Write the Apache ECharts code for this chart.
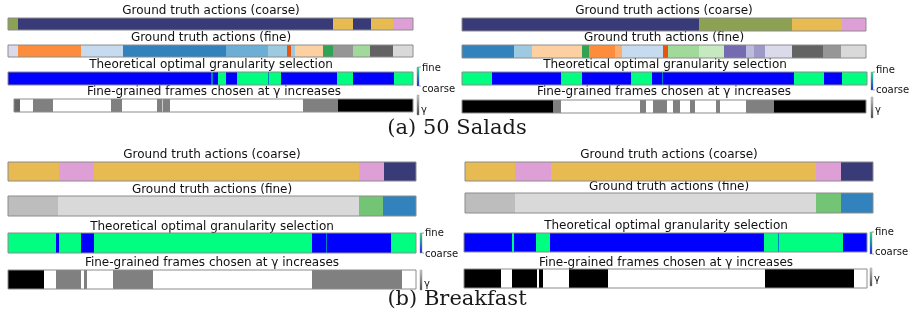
<!DOCTYPE HTML>
<html>
<head>
	<meta charset="utf-8">
	<title>Granularity selection - 50 Salads / Breakfast</title>
	<script src="https://cdn.jsdelivr.net/npm/echarts@6/dist/echarts.min.js"></script>
	<style>
		html, body { margin: 0; padding: 0; background: #fff; }
		#main { width: 909px; height: 314px; }
	</style>
</head>
<body>
	<div id="main"></div>
	<script type="text/javascript">
		// segments are [start %, end %, label]; coarse labels index tab20b, fine labels index tab20c
		// granularity: 0 = coarse, 1 = fine; frames: 0 = none .. 1 = all (gamma)
		var tab20b = ['#393b79','#5254a3','#6b6ecf','#9c9ede','#637939','#8ca252','#b5cf6b','#cedb9c','#8c6d31','#bd9e39',
			'#e7ba52','#e7cb94','#843c39','#ad494a','#d6616b','#e7969c','#7b4173','#a55194','#ce6dbd','#de9ed6'];
		var tab20c = ['#3182bd','#6baed6','#9ecae1','#c6dbef','#e6550d','#fd8d3c','#fdae6b','#fdd0a2','#31a354','#74c476',
			'#a1d99b','#c7e9c0','#756bb1','#9e9ac8','#bcbddc','#dadaeb','#636363','#969696','#bdbdbd','#d9d9d9'];

		var stripTitles = ['Ground truth actions (coarse)', 'Ground truth actions (fine)',
			'Theoretical optimal granularity selection', 'Fine-grained frames chosen at γ increases'];
		var captions = ['(a) 50 Salads', '(b) Breakfast'];
		var granLabels = ['fine', 'coarse'];
		var gammaLabel = 'γ';

		var salads1Coarse = [[0,2.5,5],[2.5,80.2,0],[80.2,85.2,10],[85.2,89.6,0],[89.6,95.1,10],[95.1,100,19]];
		var salads1Fine = [[0,2.5,15],[2.5,18.0,5],[18.0,28.4,3],[28.4,53.8,0],[53.8,64.2,1],[64.2,68.9,2],[68.9,69.9,4],
			[69.9,70.9,2],[70.9,77.8,7],[77.8,80.2,8],[80.2,85.2,17],[85.2,89.4,10],[89.4,95.1,16],[95.1,100,19]];
		var salads1Gran = [[0,50.1,0],[50.1,50.6,0.5],[50.6,51.9,0],[51.9,53.8,1],[53.8,56.5,0],[56.5,64.2,1],[64.2,64.4,0.5],
			[64.4,67.4,1],[67.4,81.2,0],[81.2,85.2,1],[85.2,95.3,0],[95.3,100,1]];
		var salads1Frames = [[0,1.5,0.6],[1.5,4.8,0],[4.8,9.8,0.5],[9.8,24.3,0],[24.3,27.1,0.5],[27.1,35.8,0],[35.8,37.1,0.5],
			[37.1,37.3,0.2],[37.3,39.1,0.5],[39.1,72.4,0],[72.4,81.2,0.5],[81.2,100,1]];

		var salads2Coarse = [[0,58.7,0],[58.7,81.7,5],[81.7,94.1,10],[94.1,100,19]];
		var salads2Fine = [[0,12.9,0],[12.9,17.3,2],[17.3,29.7,7],[29.7,31.4,8],[31.4,37.9,5],[37.9,39.6,6],[39.6,49.8,3],
			[49.8,51.0,4],[51.0,58.7,10],[58.7,64.9,11],[64.9,70.3,12],[70.3,72.3,14],[72.3,75.0,13],[75.0,81.7,15],
			[81.7,89.4,16],[89.4,93.8,17],[93.8,100,19]];
		var salads2Gran = [[0,7.4,1],[7.4,24.4,0],[24.4,29.6,1],[29.6,41.7,0],[41.7,46.9,1],[46.9,49.4,0],[49.4,49.6,0.5],
			[49.6,82.0,0],[82.0,89.4,1],[89.4,93.8,0],[93.8,100,1]];
		var salads2Frames = [[0,22.5,1],[22.5,24.5,0.5],[24.5,44.1,0],[44.1,45.5,0.5],[45.5,47.3,0],[47.3,50.7,0.5],[50.7,52.2,0],
			[52.2,54.0,0.5],[54.0,56.4,0],[56.4,57.7,0.5],[57.7,62.9,0],[62.9,63.9,0.5],[63.9,70.3,0],[70.3,77.2,0.5],[77.2,100,1]];

		var breakfast1Coarse = [[0,12.5,10],[12.5,21.1,19],[21.1,86.0,10],[86.0,92.2,19],[92.2,100,0]];
		var breakfast1Fine = [[0,12.3,18],[12.3,86.0,19],[86.0,91.9,9],[91.9,100,0]];
		var breakfast1Gran = [[0,11.8,1],[11.8,12.5,0],[12.5,17.9,1],[17.9,21.1,0],[21.1,74.5,1],[74.5,77.9,0],[77.9,78.2,0.5],
			[78.2,93.9,0],[93.9,100,1]];
		var breakfast1Frames = [[0,8.8,1],[8.8,11.8,0],[11.8,17.9,0.5],[17.9,18.6,0],[18.6,19.4,0.5],[19.4,25.7,0],[25.7,35.5,0.5],
			[35.5,74.5,0],[74.5,96.6,0.5],[96.6,100,0]];

		var breakfast2Coarse = [[0,12.3,10],[12.3,21.1,19],[21.1,86.0,10],[86.0,92.2,19],[92.2,100,0]];
		var breakfast2Fine = [[0,12.3,18],[12.3,86.0,19],[86.0,92.2,9],[92.2,100,0]];
		var breakfast2Gran = [[0,11.9,0],[11.9,12.4,1],[12.4,17.9,0],[17.9,21.3,1],[21.3,74.4,0],[74.4,77.9,1],[77.9,78.2,0.5],
			[78.2,94.0,1],[94.0,100,0]];
		var breakfast2Frames = [[0,9.2,1],[9.2,11.9,0],[11.9,18.1,1],[18.1,18.6,0],[18.6,19.6,1],[19.6,26.1,0],[26.1,35.7,1],
			[35.7,74.7,0],[74.7,96.8,1],[96.8,100,0]];

		// layout of the 16 strips (pixels): x0, x1, y0, y1, title y
		var strips = [
			{data: salads1Coarse, kind: 'coarse', x0: 8, x1: 413, y0: 18, y1: 30, ty: 11},
			{data: salads1Fine, kind: 'fine', x0: 8, x1: 413, y0: 45, y1: 57, ty: 38},
			{data: salads1Gran, kind: 'gran', x0: 8, x1: 413, y0: 72, y1: 85, ty: 65},
			{data: salads1Frames, kind: 'frames', x0: 14, x1: 413, y0: 99, y1: 112, ty: 92},
			{data: salads2Coarse, kind: 'coarse', x0: 462, x1: 866, y0: 18, y1: 31, ty: 11},
			{data: salads2Fine, kind: 'fine', x0: 462, x1: 866, y0: 45, y1: 58, ty: 38},
			{data: salads2Gran, kind: 'gran', x0: 462, x1: 867, y0: 72, y1: 85, ty: 65},
			{data: salads2Frames, kind: 'frames', x0: 462, x1: 866, y0: 100, y1: 113, ty: 92},
			{data: breakfast1Coarse, kind: 'coarse', x0: 8, x1: 416, y0: 162, y1: 181, ty: 155},
			{data: breakfast1Fine, kind: 'fine', x0: 8, x1: 416, y0: 196, y1: 216, ty: 190},
			{data: breakfast1Gran, kind: 'gran', x0: 8, x1: 416, y0: 233, y1: 253, ty: 227},
			{data: breakfast1Frames, kind: 'frames', x0: 8, x1: 416, y0: 270, y1: 289, ty: 263},
			{data: breakfast2Coarse, kind: 'coarse', x0: 465, x1: 873, y0: 162, y1: 181, ty: 155},
			{data: breakfast2Fine, kind: 'fine', x0: 465, x1: 873, y0: 193, y1: 213, ty: 187},
			{data: breakfast2Gran, kind: 'gran', x0: 464, x1: 867, y0: 233, y1: 252, ty: 226},
			{data: breakfast2Frames, kind: 'frames', x0: 464, x1: 867, y0: 269, y1: 288, ty: 263}
		];
		var kindIndex = {coarse: 0, fine: 1, gran: 2, frames: 3};

		// colorbars next to each panel: x, granularity bar y0/y1 + label ys, gamma bar y0/y1 + label y
		var colorbars = [
			{x: 417, gy0: 67, gy1: 86, fy: 68, cy: 89, my0: 95, my1: 115, my: 110},
			{x: 871, gy0: 72, gy1: 90, fy: 70, cy: 90, my0: 97, my1: 118, my: 110},
			{x: 420, gy0: 233, gy1: 253, fy: 233, cy: 254, my0: 270, my1: 290, my: 284},
			{x: 870, gy0: 232, gy1: 254, fy: 232, cy: 252, my0: 268, my1: 286, my: 279}
		];

		function makeRender(palette) {
			return function(params, api) {
				var a = api.coord([api.value(0), 0]);
				var b = api.coord([api.value(1), 0]);
				var cs = params.coordSys;
				var x0 = Math.round(a[0]), x1 = Math.round(b[0]);
				if (x1 <= x0) x1 = x0 + 1;
				return {
					type: 'rect',
					shape: {x: x0, y: cs.y, width: x1 - x0, height: cs.height},
					style: {fill: palette ? palette[api.value(2)] : api.visual('color')}
				};
			};
		}

		var myChart = echarts.init(document.getElementById('main'));

		var grids = [], xAxes = [], yAxes = [], series = [], graphics = [];
		var granSeries = [], frameSeries = [];
		var txtFont = '"DejaVu Sans", sans-serif';

		strips.forEach(function(s, i) {
			grids.push({
				left: s.x0, top: s.y0, width: s.x1 - s.x0, height: s.y1 - s.y0,
				show: true, borderColor: '#8c8c8c', borderWidth: 1, backgroundColor: 'transparent', z: 3
			});
			xAxes.push({type: 'value', gridIndex: i, min: 0, max: 100, show: false});
			yAxes.push({type: 'value', gridIndex: i, min: 0, max: 1, show: false});
			var palette = s.kind == 'coarse' ? tab20b : (s.kind == 'fine' ? tab20c : null);
			if (s.kind == 'gran') granSeries.push(i);
			if (s.kind == 'frames') frameSeries.push(i);
			series.push({
				type: 'custom', xAxisIndex: i, yAxisIndex: i, z: 2, silent: true,
				renderItem: makeRender(palette),
				encode: {x: [0, 1]},
				data: s.data
			});
			graphics.push({
				type: 'text', x: Math.round((s.x0 + s.x1) / 2), y: s.ty, silent: true,
				style: {
					text: stripTitles[kindIndex[s.kind]], fill: '#111', fontSize: 12, fontFamily: txtFont,
					align: 'center', verticalAlign: 'middle'
				}
			});
		});

		colorbars.forEach(function(c) {
			graphics.push({
				type: 'rect', shape: {x: c.x, y: c.gy0, width: 2, height: c.gy1 - c.gy0}, silent: true,
				style: {
					fill: new echarts.graphic.LinearGradient(0, 0, 0, 1, [{offset: 0, color: '#00ff80'}, {offset: 1, color: '#0000ff'}]),
					stroke: '#999', lineWidth: 0.5
				}
			});
			graphics.push({type: 'line', shape: {x1: c.x + 2, y1: c.gy0, x2: c.x + 4, y2: c.gy0}, style: {stroke: '#666', lineWidth: 0.6}, silent: true});
			graphics.push({type: 'line', shape: {x1: c.x + 2, y1: c.gy1, x2: c.x + 4, y2: c.gy1}, style: {stroke: '#666', lineWidth: 0.6}, silent: true});
			graphics.push({type: 'text', x: c.x + 5, y: c.fy, silent: true,
				style: {text: granLabels[0], fill: '#111', fontSize: 10, fontFamily: txtFont, align: 'left', verticalAlign: 'middle'}});
			graphics.push({type: 'text', x: c.x + 5, y: c.cy, silent: true,
				style: {text: granLabels[1], fill: '#111', fontSize: 10, fontFamily: txtFont, align: 'left', verticalAlign: 'middle'}});
			graphics.push({
				type: 'rect', shape: {x: c.x, y: c.my0, width: 2, height: c.my1 - c.my0}, silent: true,
				style: {
					fill: new echarts.graphic.LinearGradient(0, 0, 0, 1, [{offset: 0, color: '#d0d0d0'}, {offset: 1, color: '#333'}]),
					stroke: '#999', lineWidth: 0.5
				}
			});
			graphics.push({type: 'text', x: c.x + 4, y: c.my, silent: true,
				style: {text: gammaLabel, fill: '#111', fontSize: 10, fontFamily: txtFont, align: 'left', verticalAlign: 'middle'}});
		});

		graphics.push({type: 'text', x: 457, y: 129, silent: true,
			style: {text: captions[0], fill: '#1a1a1a', fontSize: 21, fontFamily: '"DejaVu Serif", serif', align: 'center', verticalAlign: 'middle'}});
		graphics.push({type: 'text', x: 457, y: 300, silent: true,
			style: {text: captions[1], fill: '#1a1a1a', fontSize: 21, fontFamily: '"DejaVu Serif", serif', align: 'center', verticalAlign: 'middle'}});

		var option = {
			animation: false,
			backgroundColor: '#fff',
			grid: grids,
			xAxis: xAxes,
			yAxis: yAxes,
			visualMap: [
				{type: 'continuous', show: false, min: 0, max: 1, dimension: 2, seriesIndex: granSeries,
					inRange: {color: ['#0000ff', '#00ff80']}},
				{type: 'continuous', show: false, min: 0, max: 1, dimension: 2, seriesIndex: frameSeries,
					inRange: {color: ['#ffffff', '#000000']}}
			],
			graphic: graphics,
			series: series
		};
		myChart.setOption(option);
	</script>
</body>
</html>
